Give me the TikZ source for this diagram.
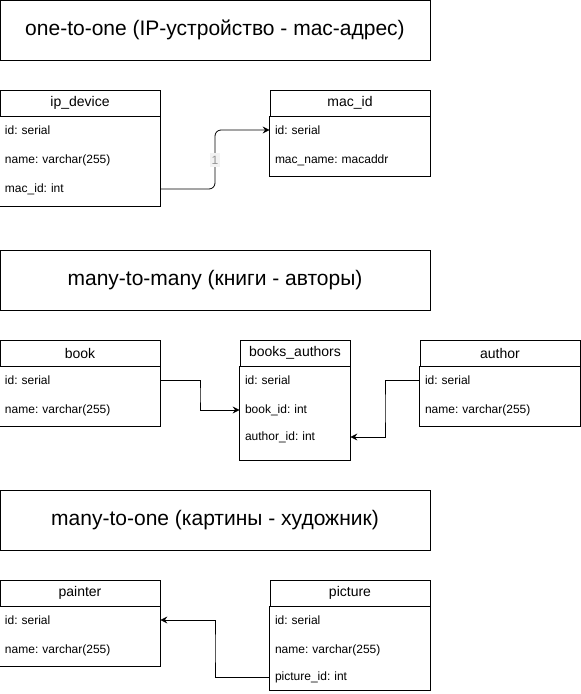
\documentclass[tikz,border=0pt]{standalone}
\usepackage{fontspec}
\setmainfont{Liberation Sans}
\usetikzlibrary{arrows.meta}
\frenchspacing
\tikzset{
 title/.style={draw,minimum width=430pt,minimum height=60pt,inner sep=0,font=\fontsize{21}{25}\selectfont},
 head/.style={draw,minimum width=160pt,minimum height=26pt,inner sep=0,font=\fontsize{14}{16}\selectfont},
 field/.style={text width=150pt,inner xsep=5pt,inner ysep=0,align=left,font=\fontsize{12}{14}\selectfont},
 link/.style={-{Stealth[length=7pt,width=7pt,inset=2.5pt]},rounded corners=6pt},
 mark1/.style={fill=gray!10,text=gray!85,inner xsep=2pt,inner ysep=3pt,font=\fontsize{12}{14}\selectfont}
}
\begin{document}
\begin{tikzpicture}[x=1pt,y=-1pt,line width=0.8pt]
 \useasboundingbox (0,0) rectangle (581,694);
 % section titles
 \node[title] (t1) at (215,30) {one-to-one (IP-устройство - mac-адрес)};
 \node[title] (t2) at (215,280) {many-to-many (книги - авторы)};
 \node[title] (t3) at (215,520) {many-to-one (картины - художник)};

 % ip_device
 \node[head] (ipd) at (80,103) {ip\_device};
 \draw (ipd.south west) rectangle (160,206);
 \node[field] (ipd-1) at (80,130) {id: serial};
 \node[field] (ipd-2) at (80,160) {name: varchar(255)};
 \node[field] (ipd-3) at (80,189) {mac\_id: int};
 % mac_id
 \node[head] (mac) at (350,103) {mac\_id};
 \draw (mac.south west) rectangle (430,176);
 \node[field] (mac-1) at (350,130) {id: serial};
 \node[field] (mac-2) at (350,160) {mac\_name: macaddr};

 % book
 \node[head] (book) at (80,353) {book};
 \draw (book.south west) rectangle (160,426);
 \node[field] (book-1) at (80,380) {id: serial};
 \node[field] (book-2) at (80,410) {name: varchar(255)};
 % books_authors
 \node[head,minimum width=110pt] (ba) at (295,353) {books\_authors};
 \draw (ba.south west) rectangle (350,460);
 \node[field,text width=100pt] (ba-1) at (295,380) {id: serial};
 \node[field,text width=100pt] (ba-2) at (295,410) {book\_id: int};
 \node[field,text width=100pt] (ba-3) at (295,437) {author\_id: int};
 % author
 \node[head] (author) at (500,353) {author};
 \draw (author.south west) rectangle (580,426);
 \node[field] (author-1) at (500,380) {id: serial};
 \node[field] (author-2) at (500,410) {name: varchar(255)};

 % painter
 \node[head] (painter) at (80,593) {painter};
 \draw (painter.south west) rectangle (160,666);
 \node[field] (painter-1) at (80,620) {id: serial};
 \node[field] (painter-2) at (80,650) {name: varchar(255)};
 % picture
 \node[head] (pic) at (350,593) {picture};
 \draw (pic.south west) rectangle (430,690);
 \node[field] (pic-1) at (350,620) {id: serial};
 \node[field] (pic-2) at (350,650) {name: varchar(255)};
 \node[field] (pic-3) at (350,677) {picture\_id: int};

 % links
 \coordinate (j1) at (215,160);
 \coordinate (j2) at (200,395);
 \coordinate (j3) at (385,408);
 \coordinate (j4) at (215,648);
 \draw[link] (ipd-3.east) -| (j1) |- (mac-1.west);
 \node[mark1] (one) at (j1) {1};
 \draw[link,rounded corners=0] (book-1.east) -| (j2) |- (ba-2.west);
 \draw[link,rounded corners=0] (author-1.west) -| (j3) |- (ba-3.east);
 \draw[link,rounded corners=0] (pic-3.west) -| (j4) |- (painter-1.east);
\end{tikzpicture}
\end{document}
